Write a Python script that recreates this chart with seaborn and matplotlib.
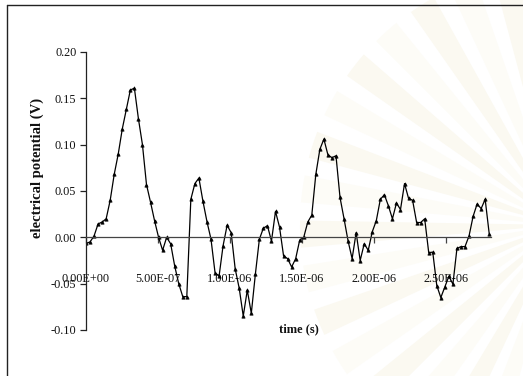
import numpy as np
import pandas as pd
import seaborn as sns
import matplotlib
matplotlib.use("Agg")
import matplotlib.pyplot as plt
from matplotlib.patches import Wedge
from matplotlib.lines import Line2D

# Sample times (ns)
time_ns = [0, 28, 56, 84, 112, 140, 168, 196, 224, 252, 280, 308, 336, 364, 392,
           420, 448, 476, 504, 532, 560, 588, 616, 644, 672, 700, 728, 756, 784,
           812, 840, 868, 896, 924, 952, 980, 1008, 1036, 1064, 1092, 1120, 1148,
           1176, 1204, 1232, 1260, 1288, 1316, 1344, 1372, 1400, 1428, 1456, 1484,
           1512, 1540, 1568, 1596, 1624, 1652, 1680, 1708, 1736, 1764, 1792, 1820,
           1848, 1876, 1904, 1932, 1960, 1988, 2016, 2044, 2072, 2100, 2128, 2156,
           2184, 2212, 2240, 2268, 2296, 2324, 2352, 2380, 2408, 2436, 2464, 2492,
           2520, 2548, 2576, 2604, 2632, 2660, 2688, 2716, 2744, 2772, 2800]

# Measured electrical potential (V)
potential = [-0.0065, -0.005, 0.0015, 0.0145, 0.0165, 0.020, 0.040, 0.068, 0.090,
             0.117, 0.138, 0.159, 0.161, 0.128, 0.100, 0.057, 0.038, 0.018, 0.000,
             -0.014, 0.000, -0.007, -0.031, -0.050, -0.064, -0.064, 0.041, 0.058,
             0.064, 0.039, 0.017, -0.002, -0.038, -0.042, -0.009, 0.013, 0.005,
             -0.034, -0.055, -0.085, -0.057, -0.082, -0.040, -0.002, 0.010, 0.0125,
             -0.004, 0.028, 0.011, -0.020, -0.023, -0.032, -0.023, -0.003, 0.000,
             0.0165, 0.024, 0.068, 0.095, 0.106, 0.089, 0.086, 0.088, 0.043, 0.020,
             -0.004, -0.023, 0.005, -0.025, -0.007, -0.014, 0.006, 0.018, 0.041,
             0.046, 0.034, 0.020, 0.037, 0.030, 0.058, 0.042, 0.040, 0.016, 0.016,
             0.020, -0.0165, -0.016, -0.052, -0.065, -0.0535, -0.042, -0.0505,
             -0.012, -0.010, -0.010, 0.0015, 0.0225, 0.036, 0.031, 0.041, 0.004]

x_ticks = [0.0, 0.5e-6, 1.0e-6, 1.5e-6, 2.0e-6, 2.5e-6]
x_tick_labels = ["0.00E+00", "5.00E-07", "1.00E-06", "1.50E-06", "2.00E-06", "2.50E-06"]
y_ticks = [-0.10, -0.05, 0.00, 0.05, 0.10, 0.15, 0.20]
y_tick_labels = ["-0.10", "-0.05", "0.00", "0.05", "0.10", "0.15", "0.20"]

df = pd.DataFrame({"time": np.array(time_ns) * 1e-9, "potential": potential})

sns.set_theme(style="white")
plt.rcParams["font.family"] = ["Liberation Serif", "DejaVu Serif"]

W, H = 523, 376
fig = plt.figure(figsize=(W / 100, H / 100), dpi=100)
fig.patch.set_facecolor("white")

# faint sunburst emblem in the background
bg = fig.add_axes([0, 0, 1, 1], zorder=0)
bg.set_xlim(0, W)
bg.set_ylim(H, 0)
bg.axis("off")
cx, cy = 560, 225
for k, a0 in enumerate(range(95, 270, 10)):
    col = "#fbf9f1" if k % 2 == 0 else "#fdfcf7"
    bg.add_patch(Wedge((cx, cy), 260, a0, a0 + 6, facecolor=col, edgecolor="none"))

# outer frame (left and top edges)
fig.add_artist(Line2D([7 / W, 7 / W], [0, 1 - 5 / H], transform=fig.transFigure,
                      color="#222222", lw=1.0))
fig.add_artist(Line2D([7 / W, 1], [1 - 5 / H, 1 - 5 / H], transform=fig.transFigure,
                      color="#222222", lw=1.0))

ax = fig.add_axes([86 / W, (H - 330) / H, (491 - 86) / W, 278 / H], zorder=1)
ax.patch.set_alpha(0)

sns.lineplot(data=df, x="time", y="potential", ax=ax, color="black", linewidth=0.9,
             marker="^", markersize=2.4, markeredgecolor="black", markeredgewidth=0.5)

ax.set_xlim(0, 2.8125e-6)
ax.set_ylim(-0.10, 0.20)

for s in ["top", "right"]:
    ax.spines[s].set_visible(False)
ax.spines["left"].set_color("#222222")
ax.spines["left"].set_linewidth(0.9)
ax.spines["bottom"].set_position(("data", 0))
ax.spines["bottom"].set_color("#444444")
ax.spines["bottom"].set_linewidth(0.9)

ax.set_yticks(y_ticks)
ax.set_yticklabels(y_tick_labels)
ax.set_xticks(x_ticks)
ax.set_xticklabels(x_tick_labels)
ax.tick_params(axis="y", direction="out", length=4, width=0.9, color="#222222",
               labelsize=8.8, pad=3, left=True)
ax.tick_params(axis="x", direction="out", length=4, width=0.9, color="#444444",
               labelsize=8.8, pad=22, bottom=True)
for lab in ax.get_xticklabels() + ax.get_yticklabels():
    lab.set_color("#111111")

ax.set_xlabel("time (s)", fontsize=9, fontweight="bold", color="#111111")
ax.set_ylabel("electrical potential (V)", fontsize=10.5, fontweight="bold", color="#111111")
ax.xaxis.set_label_coords((299 - 86) / (491 - 86), (330 - 329) / 278)
ax.xaxis.label.set_verticalalignment("center")
ax.yaxis.set_label_coords((37 - 86) / (491 - 86), (330 - 168) / 278)
ax.yaxis.label.set_verticalalignment("center")

fig.savefig("out.png", dpi=100)
